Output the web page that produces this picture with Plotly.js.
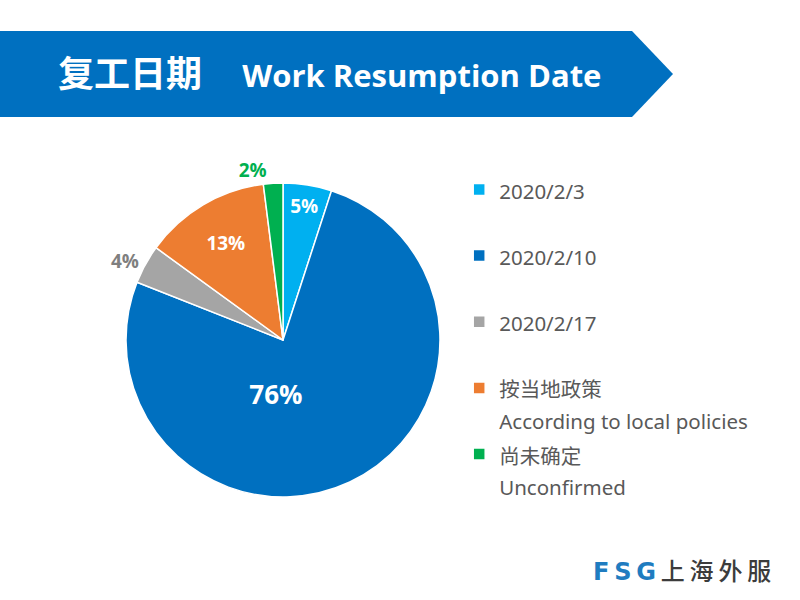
<!DOCTYPE html>
<html>
<head>
<meta charset="utf-8">
<script src="https://cdn.plot.ly/plotly-3.0.1.min.js"></script>
<style>html,body{margin:0;padding:0;background:#fff;}#chart{width:800px;height:600px;}</style>
</head>
<body>
<div id="chart"></div>
<script>
const categories = ['2020/2/3', '2020/2/10', '2020/2/17', '按当地政策', '尚未确定'];
const categoryNotes = ['', '', '', 'According to local policies', 'Unconfirmed'];
const shares = [5, 76, 4, 13, 2];
const sliceColors = ['#00b0f0', '#0070c0', '#a5a5a5', '#ed7d31', '#00b050'];
const labelColors = ['#ffffff', '#ffffff', '#7f7f7f', '#ffffff', '#00b050'];
const labelPositions = ['inside', 'inside', 'outside', 'inside', 'outside'];
const labelSizes = [19, 26, 19, 19, 19];
// padding (non-breaking spaces / blank line) used only to nudge label placement
const labelPadAfter = ['', '\u00a0'.repeat(12) + '<br>\u00a0', '', '', ''];

const LEG = 20.5;
const legendNames = categories.map((c, i) => {
  const first = `<span style="font-size:${LEG}px">${c}</span>`;
  const second = categoryNotes[i] ? `<span style="font-size:${LEG}px">${categoryNotes[i]}</span>` : '\u00a0';
  return first + '<br>' + second;
});

const trace = {
  type: 'pie',
  labels: legendNames,
  values: shares,
  sort: false,
  direction: 'clockwise',
  rotation: 0,
  marker: {colors: sliceColors, line: {color: '#ffffff', width: 1.5}},
  texttemplate: shares.map((v, i) => '<b>%{value}%</b>' + labelPadAfter[i]),
  textposition: labelPositions,
  insidetextorientation: 'horizontal',
  textfont: {family: 'Open Sans, Noto Sans, sans-serif', size: labelSizes, color: labelColors},
  hoverinfo: 'none',
  domain: {x: [0.1575, 0.55], y: [0.1717, 0.695]},
  automargin: false
};

const layout = {
  width: 800, height: 600,
  margin: {l: 0, r: 0, t: 0, b: 0},
  paper_bgcolor: '#ffffff',
  plot_bgcolor: '#ffffff',
  showlegend: true,
  legend: {
    x: 0.574, xanchor: 'left', y: 0.7215, yanchor: 'top',
    valign: 'top',
    font: {family: 'Noto Sans, Noto Sans CJK SC, sans-serif', size: 24.3, color: '#595959'},
    bgcolor: 'rgba(0,0,0,0)',
    itemclick: false
  },
  title: {
    text: '<b><span style="font-size:36px;font-family:Noto Sans CJK SC">复工日期</span>\u00a0\u00a0\u00a0\u00a0\u00a0<span style="font-size:31px">Work Resumption Date</span></b>',
    font: {family: 'Open Sans, Noto Sans, sans-serif', color: '#ffffff', size: 31},
    x: 58/800, xanchor: 'left', xref: 'container',
    y: 1 - 76/600, yanchor: 'middle', yref: 'container'
  },
  shapes: [{
    type: 'path', xref: 'paper', yref: 'paper', layer: 'below',
    path: 'M0,' + (1-31/600) + ' L' + (632/800) + ',' + (1-31/600) + ' L' + (673/800) + ',' + (1-74/600) +
          ' L' + (632/800) + ',' + (1-117/600) + ' L0,' + (1-117/600) + ' Z',
    fillcolor: '#0070c0', line: {width: 0}
  }],
  annotations: [{
    xref: 'paper', yref: 'paper', x: 591/800, y: 1 - 569/600, xanchor: 'left', yanchor: 'middle',
    showarrow: false,
    text: '<span style="color:#1f7cc0;font-size:24px;font-family:DejaVu Sans;font-weight:bold">F\u2009S\u2009G</span>\u2009<span style="color:#3c3c3c;font-size:24px;font-family:Noto Sans CJK SC;font-weight:500">上\u2009海\u2009外\u2009服</span>',
    font: {family: 'Noto Sans CJK SC, sans-serif', size: 24}
  }]
};

Plotly.newPlot('chart', [trace], layout, {displayModeBar: false, staticPlot: true});
</script>
</body>
</html>
